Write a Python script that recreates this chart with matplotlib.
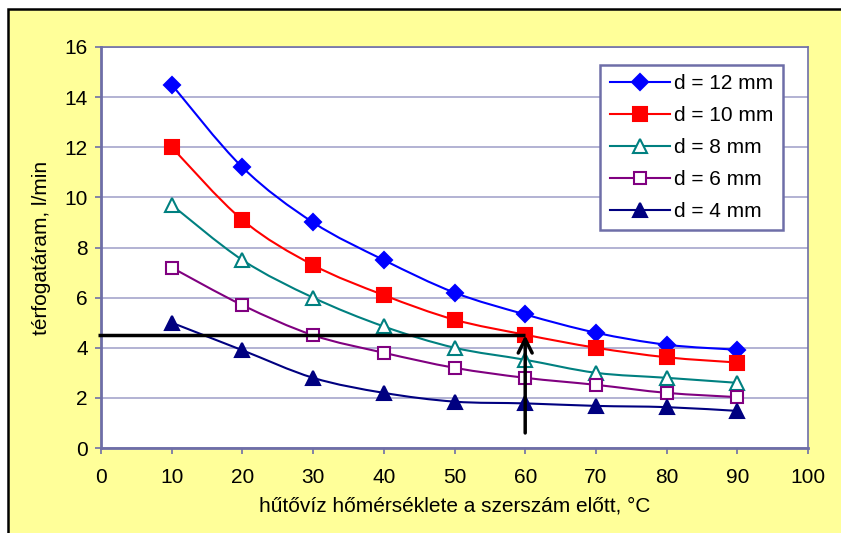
import numpy as np
import matplotlib
matplotlib.use('Agg')
import matplotlib.pyplot as plt
from matplotlib.path import Path
from matplotlib.patches import PathPatch, Rectangle
from matplotlib.lines import Line2D

plt.rcParams['font.family'] = ['Liberation Sans', 'DejaVu Sans']

# hűtővíz hőmérséklete, °C
homerseklet = [10, 20, 30, 40, 50, 60, 70, 80, 90]
d12 = [14.5, 11.2, 9.0, 7.5, 6.2, 5.33, 4.6, 4.12, 3.92]
d10 = [12.0, 9.1, 7.3, 6.1, 5.12, 4.52, 4.0, 3.62, 3.41]
d8 = [9.7, 7.5, 6.0, 4.85, 4.0, 3.52, 3.0, 2.8, 2.6]
d6 = [7.2, 5.7, 4.5, 3.8, 3.2, 2.8, 2.52, 2.2, 2.03]
d4 = [5.0, 3.9, 2.8, 2.2, 1.85, 1.78, 1.68, 1.63, 1.48]
cimkek = ['d = 12 mm', 'd = 10 mm', 'd = 8 mm', 'd = 6 mm', 'd = 4 mm']

szin_racs = '#a6a6cc'
szin_tengely = '#6e6ea8'
betu = 15


def sima_ut(x, y):
    # Excel-szerű simítás: Bezier szakaszok a pontokon át
    x = np.asarray(x, float)
    y = np.asarray(y, float)
    p = np.column_stack([x, y])
    verts = [p[0]]
    codes = [Path.MOVETO]
    n = len(p)
    for i in range(n - 1):
        p0 = p[i - 1] if i > 0 else p[i]
        p3 = p[i + 2] if i + 2 < n else p[i + 1]
        c1 = p[i] + (p[i + 1] - p0) / 6.0
        c2 = p[i + 1] - (p3 - p[i]) / 6.0
        verts += [c1, c2, p[i + 1]]
        codes += [Path.CURVE4] * 3
    return Path(verts, codes)


fig = plt.figure(figsize=(8.41, 5.33), dpi=100, facecolor='white')
fig.patches.append(Rectangle((8 / 841, -0.1), 1.2, 1 - 9 / 533 + 0.1,
                             transform=fig.transFigure, facecolor='#ffff99',
                             edgecolor='black', linewidth=1.8, zorder=-10))

ax = fig.add_axes([101 / 841, 1 - 448 / 533, 707 / 841, 401 / 533])
ax.set_facecolor('white')

sorozatok = [
    (d12, '#0000ff', 'D', '#0000ff', 8),
    (d10, '#ff0000', 's', '#ff0000', 10),
    (d8, '#008080', '^', 'white', 9.5),
    (d6, '#800080', 's', 'white', 9),
    (d4, '#000080', '^', '#000080', 9.5),
]

kezelok = []
for (ertekek, szin, jel, kitoltes, meret), cimke in zip(sorozatok, cimkek):
    ax.add_patch(PathPatch(sima_ut(homerseklet, ertekek), facecolor='none',
                           edgecolor=szin, linewidth=1.5, zorder=3))
    ax.plot(homerseklet, ertekek, linestyle='none', marker=jel, markersize=meret,
            markerfacecolor=kitoltes, markeredgecolor=szin, markeredgewidth=1.5,
            zorder=4)
    kezelok.append(Line2D([], [], color=szin, linewidth=1.5, marker=jel,
                          markersize=meret, markerfacecolor=kitoltes,
                          markeredgecolor=szin, markeredgewidth=1.5))

# leolvasás: 4,5 l/min, 60 °C
ax.plot([-0.4, 60], [4.5, 4.5], color='black', linewidth=2.5, zorder=5,
        solid_capstyle='butt', clip_on=False)
ax.annotate('', xy=(60, 4.5), xytext=(60, 0.6),
            arrowprops=dict(arrowstyle='->,head_length=1.0,head_width=0.5',
                            color='black', linewidth=2.5, shrinkA=0, shrinkB=0),
            zorder=6)

ax.set_xlim(0, 100)
ax.set_ylim(0, 16)
ax.set_xticks(range(0, 101, 10))
ax.set_yticks(range(0, 17, 2))
ax.grid(axis='y', color=szin_racs, linewidth=1.2)
ax.set_axisbelow(True)
for s in ax.spines.values():
    s.set_color(szin_tengely)
    s.set_linewidth(1.2)
ax.spines['left'].set_linewidth(2)
ax.spines['bottom'].set_linewidth(2)
ax.tick_params(direction='out', length=4.5, width=1.2, color=szin_tengely,
               labelsize=betu, labelcolor='black', pad=5)
ax.tick_params(axis='x', pad=10)

ax.set_xlabel('hűtővíz hőmérséklete a szerszám előtt, °C', fontsize=betu, labelpad=7)
ax.set_ylabel('térfogatáram, l/min', fontsize=betu, labelpad=10)

leg = ax.legend(kezelok, cimkek, loc='upper right', bbox_to_anchor=(0.9646, 0.955),
                fontsize=betu, frameon=True, fancybox=False, handlelength=2.9,
                handletextpad=0.2, borderpad=0.45, labelspacing=0.62,
                borderaxespad=0)
leg.get_frame().set_edgecolor(szin_tengely)
leg.get_frame().set_linewidth(1.8)
leg.get_frame().set_alpha(1)

fig.savefig('out.png', dpi=100, facecolor=fig.get_facecolor())
